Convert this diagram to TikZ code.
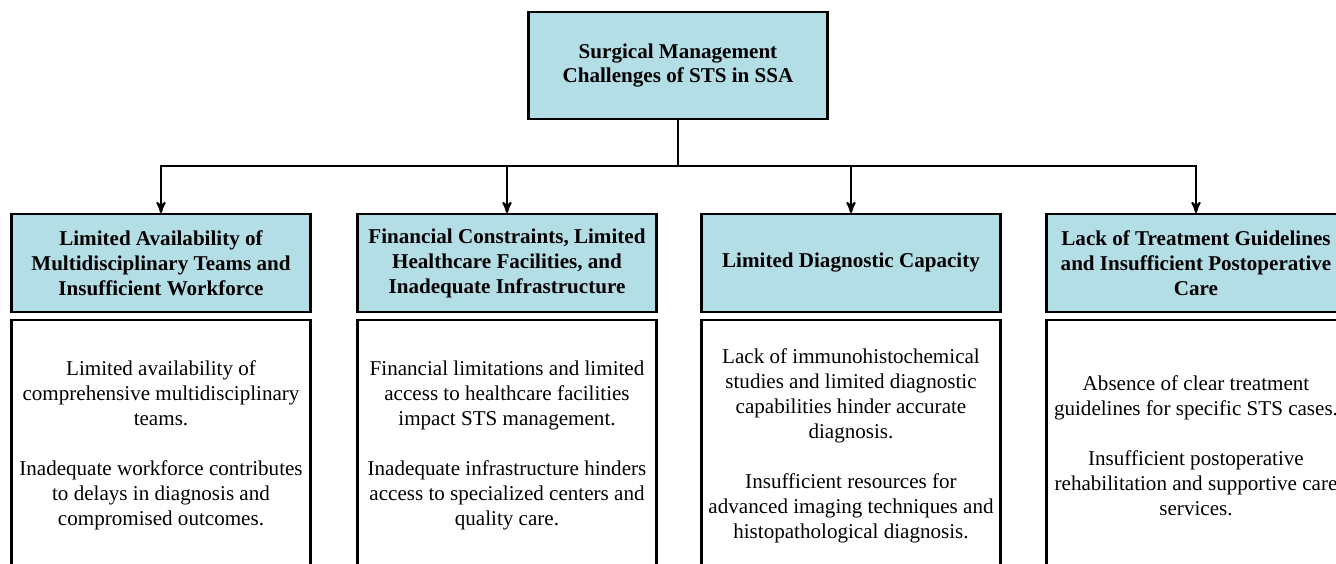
\documentclass[tikz,border=0pt]{standalone}
\usepackage{fontspec}
\setmainfont{Liberation Serif}
\usetikzlibrary{arrows,positioning}
\definecolor{headblue}{RGB}{180,222,230}

\begin{document}
\begin{tikzpicture}[x=0.02cm,y=-0.02cm,
    box/.style={draw, line width=1.2pt, align=center, inner sep=1pt,
      font=\fontsize{12}{14.2}\selectfont},
    head/.style={box, fill=headblue, minimum width=5.98cm, minimum height=1.96cm,
      font=\bfseries\fontsize{12}{14.2}\selectfont},
    body/.style={box, minimum width=5.98cm, minimum height=5.02cm},
    link/.style={line width=1.2pt, ->, >=stealth'}]

            \useasboundingbox (0,0) rectangle (1336,564);
            \clip (0,0) rectangle (1336,564);

            % Root
            \node[head, minimum height=2.14cm] (root) at (678,65.5)
                {Surgical Management\\Challenges of STS in SSA};
            \coordinate (split) at (678,166);

            % Headers
            \node[head] (head1) at (161,263)
                {Limited Availability of\\Multidisciplinary Teams and\\Insufficient Workforce};
            \node[head] (head2) at (507,263)
                {Financial Constraints, Limited\\Healthcare Facilities, and\\Inadequate Infrastructure};
            \node[head] (head3) at (851,263) {Limited Diagnostic Capacity};
            \node[head] (head4) at (1196,263)
                {Lack of Treatment Guidelines\\and Insufficient Postoperative\\Care};

            % Bodies
            \node[body, below=0.12cm of head1] (body1)
                {Limited availability of\\comprehensive multidisciplinary\\teams.\\[14.2pt]
                 Inadequate workforce contributes\\to delays in diagnosis and\\compromised outcomes.};
            \node[body, below=0.12cm of head2] (body2)
                {Financial limitations and limited\\access to healthcare facilities\\impact STS management.\\[14.2pt]
                 Inadequate infrastructure hinders\\access to specialized centers and\\quality care.};
            \node[body, below=0.12cm of head3] (body3)
                {Lack of immunohistochemical\\studies and limited diagnostic\\capabilities hinder accurate\\diagnosis.\\[14.2pt]
                 Insufficient resources for\\advanced imaging techniques and\\histopathological diagnosis.};
            \node[body, below=0.12cm of head4] (body4)
                {Absence of clear treatment\\guidelines for specific STS cases.\\[14.2pt]
                 Insufficient postoperative\\rehabilitation and supportive care\\services.};

            % Connectors
            \draw[line width=1.2pt] (root.south) -- (split);
            \foreach \h in {head1,head2,head3,head4}
                \draw[link] (split) -| (\h.north);

\end{tikzpicture}
\end{document}
